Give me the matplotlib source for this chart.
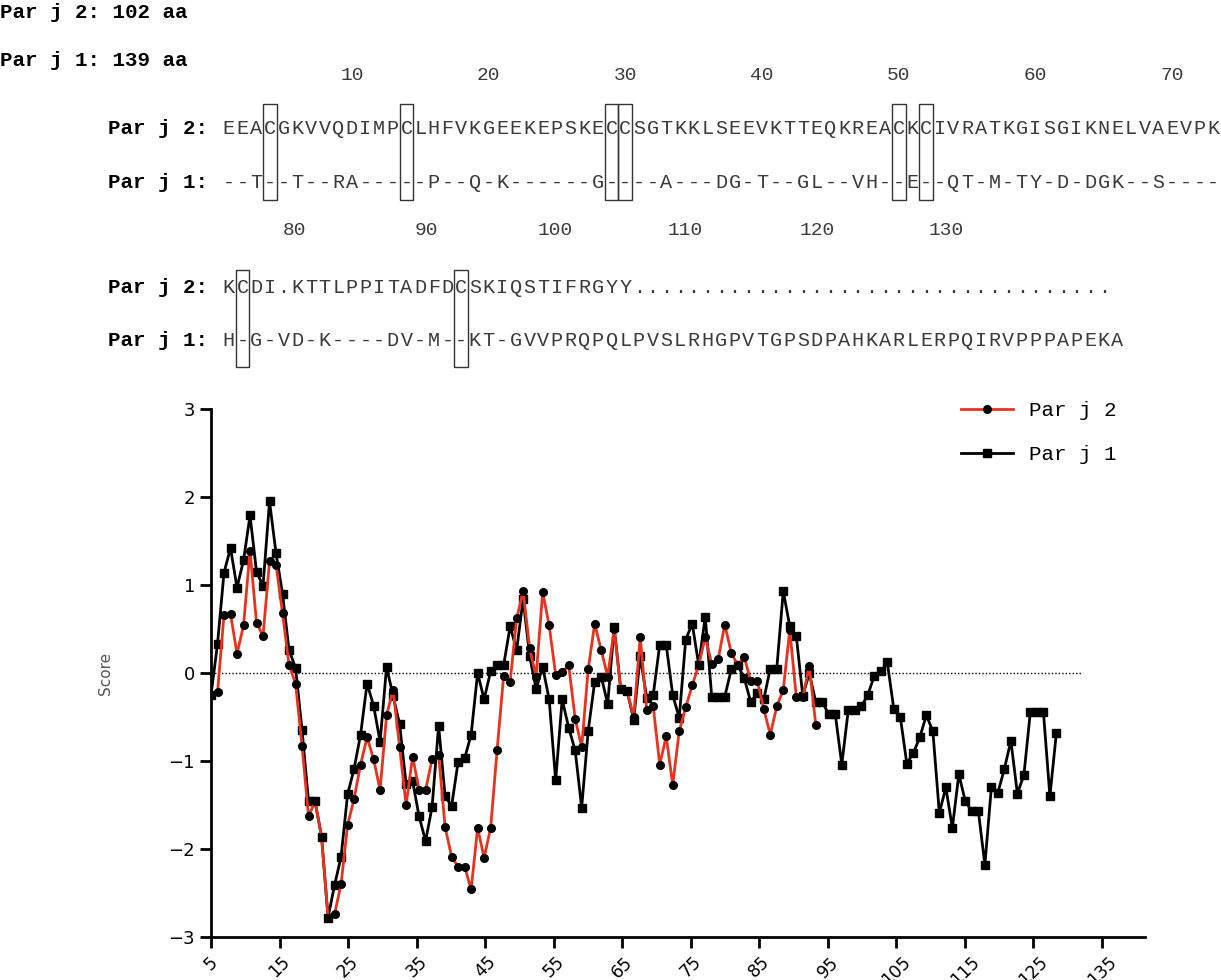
import numpy as np
import matplotlib
matplotlib.use("Agg")
import matplotlib.pyplot as plt
from matplotlib.patches import Rectangle

# ---------------- data ----------------
parj1_scores = [-0.25, 0.33, 1.14, 1.42, 0.97, 1.28, 1.79, 1.15, 0.99, 1.95,
                1.36, 0.90, 0.26, 0.06, -0.65, -1.46, -1.46, -1.86, -2.78, -2.41,
                -2.09, -1.38, -1.09, -0.70, -0.12, -0.37, -0.78, 0.07, -0.26, -0.58,
                -1.26, -1.23, -1.63, -1.91, -1.52, -0.60, -1.40, -1.51, -1.01, -0.97,
                -0.70, 0.00, -0.30, 0.02, 0.09, 0.09, 0.53, 0.26, 0.84, 0.19,
                -0.18, 0.07, -0.30, -1.22, -0.30, -0.62, -0.88, -1.53, -0.66, -0.10,
                -0.04, -0.35, 0.52, -0.18, -0.21, -0.53, 0.19, -0.28, -0.25, 0.32,
                0.32, -0.25, -0.51, 0.38, 0.56, 0.09, 0.64, -0.27, -0.27, -0.27,
                0.04, 0.09, -0.06, -0.33, -0.23, -0.30, 0.05, 0.05, 0.93, 0.53,
                0.42, -0.26, 0.00, -0.33, -0.33, -0.47, -0.47, -1.04, -0.42, -0.42,
                -0.38, -0.25, -0.03, 0.02, 0.12, -0.41, -0.50, -1.03, -0.91, -0.73,
                -0.48, -0.66, -1.59, -1.30, -1.76, -1.15, -1.46, -1.57, -1.57, -2.18,
                -1.30, -1.36, -1.09, -0.77, -1.37, -1.16, -0.44, -0.44, -0.44, -1.40,
                -0.68]
parj2_scores = [-0.25, -0.22, 0.66, 0.67, 0.22, 0.54, 1.39, 0.57, 0.42, 1.27,
                1.23, 0.68, 0.09, -0.12, -0.83, -1.63, -1.46, -1.86, -2.78, -2.74,
                -2.40, -1.73, -1.43, -1.04, -0.73, -0.98, -1.33, -0.48, -0.19, -0.84,
                -1.50, -0.95, -1.33, -1.33, -0.98, -0.93, -1.75, -2.09, -2.20, -2.20,
                -2.46, -1.76, -2.10, -1.76, -0.87, -0.03, -0.10, 0.62, 0.93, 0.28,
                -0.04, 0.92, 0.54, -0.02, 0.01, 0.09, -0.52, -0.84, 0.04, 0.56,
                0.26, -0.04, 0.50, -0.18, -0.21, -0.50, 0.41, -0.42, -0.38, -1.04,
                -0.72, -1.27, -0.66, -0.39, -0.14, 0.09, 0.41, 0.10, 0.16, 0.55,
                0.23, 0.09, 0.18, -0.09, -0.09, -0.41, -0.70, -0.38, -0.19, 0.49,
                -0.27, -0.27, 0.08, -0.59]
x_ticks = [5, 15, 25, 35, 45, 55, 65, 75, 85, 95, 105, 115, 125, 135]
y_ticks = [-3, -2, -1, 0, 1, 2, 3]

seq_j2_line1 = "EEACGKVVQDIMPCLHFVKGEEKEPSKECCSGTKKLSEEVKTTEQKREACKCIVRATKGISGIKNELVAEVPK"
seq_j1_line1 = "--T--T--RA-----P--Q-K------G----A---DG-T--GL--VH--E--QT-M-TY-D-DGK--S----"
seq_j1_line2 = "H-G-VD-K----DV-M--KT-GVVPRQPQLPVSLRHGPVTGPSDPAHKARLERPQIRVPPPAPEKA"
seq_j2_line2 = "KCDI.KTTLPPITADFDCSKIQSTIFRGYY" + "." * 35
nums_line1 = [10, 20, 30, 40, 50, 60, 70]
nums_line2 = [80, 90, 100, 110, 120, 130]
boxes_line1 = [3, 13, 28, 29, 49, 51]
boxes_line2 = [1, 17]

W, H = 1221, 980
fig = plt.figure(figsize=(W / 100, H / 100), dpi=100)

# ---------------- text section ----------------
tax = fig.add_axes([0, 0, 1, 1])
tax.set_xlim(0, W)
tax.set_ylim(H, 0)
tax.axis("off")

mono = "Liberation Mono"
cw = 13.67
x0 = 222
seqfs = 14.5
lblfs = 15
tax.text(0, 12, "Par j 2: 102 aa", fontfamily=mono, fontweight="bold", fontsize=lblfs, va="center")
tax.text(0, 61, "Par j 1: 139 aa", fontfamily=mono, fontweight="bold", fontsize=lblfs, va="center")

def seq_row(y, label, s):
    tax.text(x0 - 14, y, label, fontfamily=mono, fontweight="bold", fontsize=lblfs, va="center", ha="right")
    for i, ch in enumerate(s):
        tax.text(x0 + (i + 0.5) * cw, y, ch, fontfamily=mono, fontsize=seqfs, va="center",
                 ha="center", color="#3a3a3a")

for n in nums_line1:
    tax.text(x0 + (n - 0.5) * cw, 76, str(n), fontfamily=mono, fontsize=14, ha="center", va="center", color="#3a3a3a")
nums2_px = [295, 426, 555, 685, 817, 946]
for n, px in zip(nums_line2, nums2_px):
    tax.text(px, 230, str(n), fontfamily=mono, fontsize=14, ha="center", va="center", color="#3a3a3a")

seq_row(128, "Par j 2:", seq_j2_line1)
seq_row(182, "Par j 1:", seq_j1_line1)
seq_row(287, "Par j 2:", seq_j2_line2)
seq_row(340, "Par j 1:", seq_j1_line2)

for b in boxes_line1:
    tax.add_patch(Rectangle((x0 + b * cw, 104), cw, 96, fill=False, lw=1.0, ec="#333333"))
for b in boxes_line2:
    tax.add_patch(Rectangle((x0 + b * cw, 270), cw, 97, fill=False, lw=1.0, ec="#333333"))

# ---------------- plot ----------------
left, right, top, bottom = 211, 1145, 409, 937
ax = fig.add_axes([left / W, 1 - bottom / H, (right - left) / W, (bottom - top) / H])
step = 0.949
x1 = 5 + step * np.arange(len(parj1_scores))
x2 = 5 + step * np.arange(len(parj2_scores))
ax.axhline(0, color="black", lw=1.0, ls=(0, (1, 1.5)), xmax=(128.5 + 3.5 - 5) / (141.3 - 5))
ax.plot(x2, parj2_scores, color="#e8321e", lw=2, marker="o", ms=5.5, mfc="black", mec="black", label="Par j 2", zorder=3)
ax.plot(x1, parj1_scores, color="black", lw=2, marker="s", ms=5.5, mfc="black", mec="black", label="Par j 1", zorder=2)
ax.set_xlim(5, 141.3)
ax.set_ylim(-3, 3)
ax.set_xticks(x_ticks)
ax.set_xticklabels([str(t) for t in x_ticks], rotation=45, fontsize=12.5, fontfamily="DejaVu Sans")
ax.set_yticks(y_ticks)
ax.set_yticklabels(["\u22123", "\u22122", "\u22121", "0", "1", "2", "3"], fontsize=13)
for s in ["top", "right"]:
    ax.spines[s].set_visible(False)
for s in ["left", "bottom"]:
    ax.spines[s].set_linewidth(2)
ax.tick_params(direction="out", length=8, width=2)
ax.set_ylabel("Score", fontsize=11, color="#555555", labelpad=40)
h, l = ax.get_legend_handles_labels()
ax.legend(h, l, loc="upper right", bbox_to_anchor=(0.99, 1.05), frameon=False,
          prop={"family": mono, "size": 15}, handlelength=2.5, labelspacing=1.2)

fig.savefig("out.png", dpi=100)
